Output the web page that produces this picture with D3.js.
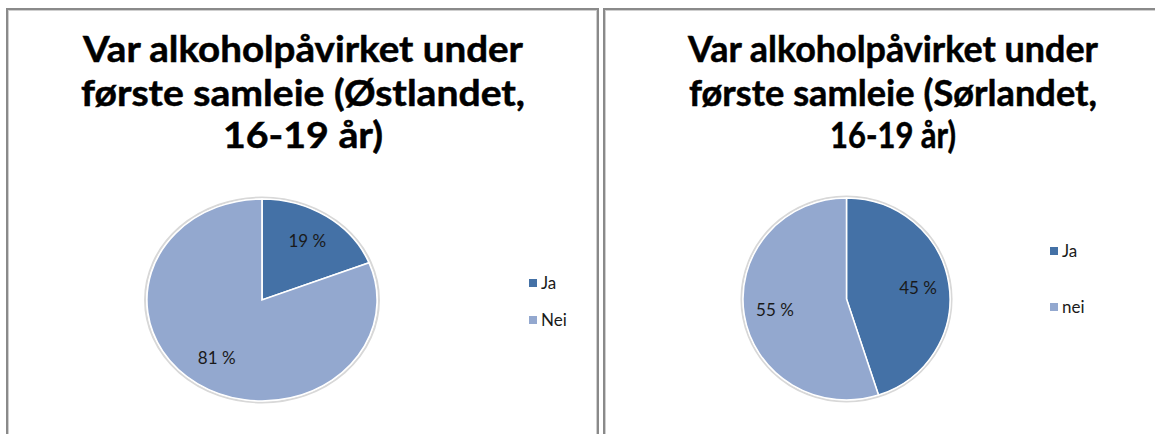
<!DOCTYPE html>
<html>
<head>
<meta charset="utf-8">
<script src="https://cdn.jsdelivr.net/npm/d3@7"></script>
<style>
  body { margin: 0; background: #fff; }
  svg { display: block; }
</style>
</head>
<body>
<div id="chart"></div>
<script>
// data
var regions = ["Østlandet", "Sørlandet"];
var titlesOst = ["Var alkoholpåvirket under", "første samleie (Østlandet,", "16-19 år)"];
var titlesSor = ["Var alkoholpåvirket under", "første samleie (Sørlandet,", "16-19 år)"];
var categoriesOst = ["Ja", "Nei"];
var categoriesSor = ["Ja", "nei"];
var valuesOst = [19, 81];
var valuesSor = [45, 55];

var width = 1155, height = 434;
var colors = ["#4471a6", "#93a8cf"];

var svg = d3.select("#chart").append("svg")
    .attr("width", width)
    .attr("height", height);

// panel layout (left one is a bit stretched sideways, like the picture)
var panels = [
  {x: 7, w: 593, titles: titlesOst, cats: categoriesOst, vals: valuesOst,
   cx: 262, cy: 300, r: 101, sx: 1.14, tx: 303, tw: [440, 444, 160],
   legX: 529, legY: [283, 320]},
  {x: 604, w: 560, titles: titlesSor, cats: categoriesSor, vals: valuesSor,
   cx: 846.5, cy: 299, r: 101, sx: 1.025, tx: 893, tw: [410, 408, 126],
   legX: 1050, legY: [251, 307]}
];

var pie = d3.pie().sort(null).value(function(d) { return d; });

panels.forEach(function(p) {
  var g = svg.append("g");

  // frame
  g.append("rect")
    .attr("x", p.x).attr("y", 9)
    .attr("width", p.w - 2).attr("height", height + 10)
    .attr("fill", "#fff")
    .attr("stroke", "#8a8a8a")
    .attr("stroke-width", 2);
  g.append("rect")
    .attr("x", p.x + 1.5).attr("y", 10.5)
    .attr("width", p.w - 5).attr("height", height + 10)
    .attr("fill", "none")
    .attr("stroke", "#cfcfcf")
    .attr("stroke-width", 1);

  // title
  var ty = [62, 106, 148];
  g.selectAll("text.title")
    .data(p.titles)
    .enter().append("text")
    .attr("class", "title")
    .attr("x", p.tx)
    .attr("y", function(d, i) { return ty[i]; })
    .attr("text-anchor", "middle")
    .attr("textLength", function(d, i) { return p.tw[i]; })
    .attr("lengthAdjust", "spacingAndGlyphs")
    .style("font-family", "Lato, 'Open Sans', sans-serif")
    .style("font-weight", "bold")
    .style("font-size", "36px")
    .style("fill", "#000")
    .style("stroke", "#000")
    .style("stroke-width", 0.5)
    .text(function(d) { return d; });

  // pie
  var arcs = pie(p.vals);
  var arc = d3.arc().innerRadius(0).outerRadius(p.r);
  var labelArc = d3.arc().innerRadius(p.r * 0.7).outerRadius(p.r * 0.7);

  var pg = g.append("g")
    .attr("transform", "translate(" + p.cx + "," + p.cy + ") scale(" + p.sx + ",1)");

  // soft edge
  pg.append("circle")
    .attr("r", p.r + 1.5)
    .attr("fill", "none")
    .attr("stroke", "#d8d8d8")
    .attr("stroke-width", 2);

  pg.selectAll("path")
    .data(arcs)
    .enter().append("path")
    .attr("d", arc)
    .attr("fill", function(d, i) { return colors[i]; })
    .attr("stroke", "#fff")
    .attr("stroke-width", 1.5);

  g.selectAll("text.lbl")
    .data(arcs)
    .enter().append("text")
    .attr("class", "lbl")
    .attr("x", function(d) { return p.cx + labelArc.centroid(d)[0] * p.sx; })
    .attr("y", function(d) { return p.cy + labelArc.centroid(d)[1]; })
    .attr("dy", "0.35em")
    .attr("text-anchor", "middle")
    .style("font-family", "Lato, 'Open Sans', sans-serif")
    .style("font-size", "17px")
    .style("fill", "#1a1a1a")
    .text(function(d) { return d.data + " %"; });

  // legend
  var leg = g.selectAll("g.leg")
    .data(p.cats)
    .enter().append("g")
    .attr("class", "leg")
    .attr("transform", function(d, i) { return "translate(" + p.legX + "," + p.legY[i] + ")"; });
  leg.append("rect")
    .attr("x", 0).attr("y", -4)
    .attr("width", 8).attr("height", 8)
    .attr("fill", function(d, i) { return colors[i]; });
  leg.append("text")
    .attr("x", 12).attr("y", 0)
    .attr("dy", "0.35em")
    .style("font-family", "Lato, 'Open Sans', sans-serif")
    .style("font-size", "17px")
    .style("fill", "#1a1a1a")
    .text(function(d) { return d; });
});
</script>
</body>
</html>
